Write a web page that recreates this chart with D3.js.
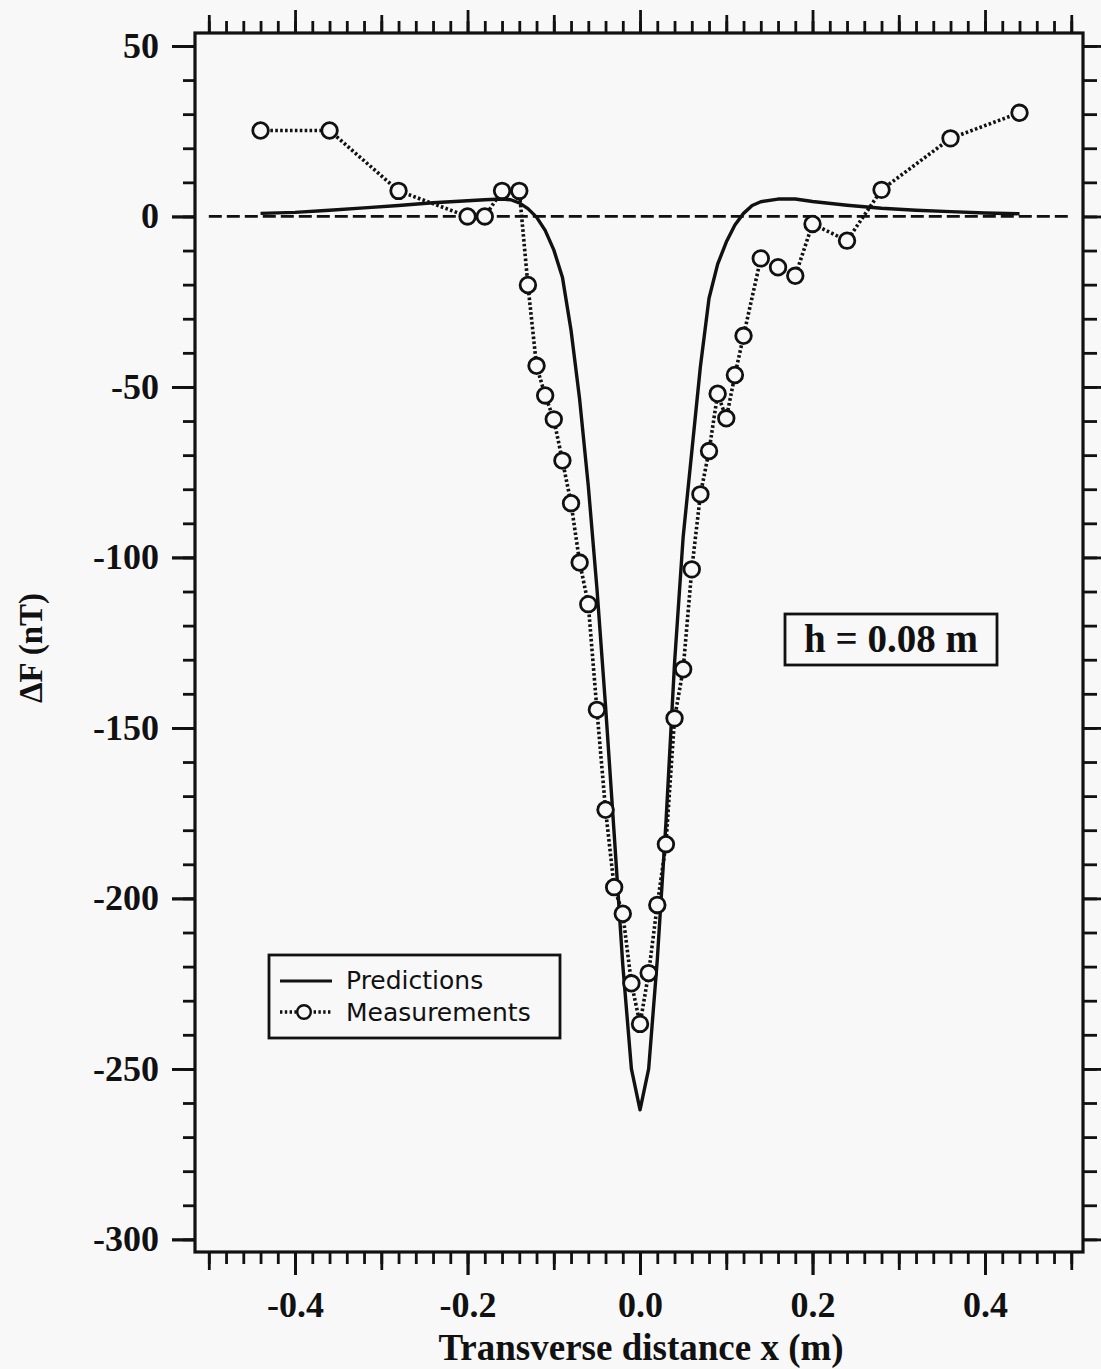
<!DOCTYPE html>
<html>
<head>
<meta charset="utf-8">
<script src="https://cdn.jsdelivr.net/npm/d3@7"></script>
<style>
  html, body { margin: 0; padding: 0; background: #f8f8f8; }
  svg { display: block; }
  .tick-label { font-family: "Liberation Serif", "Times New Roman", serif; font-weight: bold; font-size: 36px; fill: #111; }
  .legend-text { font-family: "DejaVu Sans", sans-serif; font-size: 25px; fill: #111; }
</style>
</head>
<body>
<svg id="chart" width="1101" height="1369"></svg>
<script>
// measurements (dotted line with open circles)
const measX = [-0.44, -0.36, -0.28, -0.20, -0.18, -0.16, -0.14, -0.13, -0.12, -0.11,
    -0.10, -0.09, -0.08, -0.07, -0.06, -0.05, -0.04, -0.03, -0.02, -0.01,
    0.00, 0.01, 0.02, 0.03, 0.04, 0.05, 0.06, 0.07, 0.08, 0.09,
    0.10, 0.11, 0.12, 0.14, 0.16, 0.18, 0.20, 0.24, 0.28, 0.36, 0.44]
const measY = [25.2, 25.2, 7.5, 0, 0, 7.5, 7.5, -20.1, -43.8, -52.5,
    -59.5, -71.6, -84.1, -101.5, -113.7, -144.7, -174, -196.7, -204.5, -224.9,
    -236.8, -221.9, -201.9, -184.1, -147.2, -132.8, -103.5, -81.5, -68.8, -52,
    -59.2, -46.5, -35, -12.3, -14.9, -17.4, -2.2, -7.1, 7.8, 22.9, 30.4]

// predictions (solid line)
const predX = [-0.44, -0.40, -0.36, -0.32, -0.28, -0.24, -0.20, -0.18, -0.16, -0.15,
    -0.14, -0.13, -0.12, -0.11, -0.10, -0.09, -0.08, -0.07, -0.06, -0.05,
    -0.04, -0.03, -0.02, -0.01, 0.00, 0.01, 0.02, 0.03, 0.04, 0.05,
    0.06, 0.07, 0.08, 0.09, 0.10, 0.11, 0.12, 0.13, 0.14, 0.16,
    0.18, 0.20, 0.24, 0.28, 0.32, 0.36, 0.40, 0.44]
const predY = [0.9, 1.2, 1.8, 2.5, 3.2, 4.0, 4.6, 4.9, 5.1, 4.9,
    4.0, 2.3, -0.2, -4.1, -9.8, -17.8, -33.4, -53.7, -79, -109,
    -143.5, -181, -219.5, -250, -262, -250, -218, -178, -131, -94,
    -69, -44, -24, -14, -7.5, -2.5, 0.9, 3.2, 4.3, 5.1,
    5.1, 4.4, 3.3, 2.4, 1.8, 1.4, 1.0, 0.8]

const zeroLineX = [-0.5, 0.5]

const xMajorTicks = [-0.4, -0.2, 0.0, 0.2, 0.4]
const yMajorTicks = [50, 0, -50, -100, -150, -200, -250, -300]

const legendLabels = ['Predictions', 'Measurements']
const annotation = 'h = 0.08 m'
const xTitle = 'Transverse distance x (m)'
const yTitle = '\u0394F (nT)'

const svg = d3.select('#chart')
const frame = { left: 195, top: 33, right: 1083, bottom: 1252 }

const x = d3.scaleLinear().domain([-0.516, 0.5136]).range([frame.left, frame.right])
const y = d3.scaleLinear().domain([-303.7, 53.8]).range([frame.bottom, frame.top])

const xMinor = d3.range(-50, 51, 2).map(v => v / 100)
const xMid = d3.range(-5, 6, 2).map(v => v / 10)
const yMinor = d3.range(-300, 51, 10)

function styleAxis(g, width) {
    g.select('.domain').remove()
    g.selectAll('.tick line').attr('stroke', '#111').attr('stroke-width', width)
}

// x ticks, bottom and top, three lengths
;[[xMinor, 12], [xMid, 18], [xMajorTicks, 23]].forEach(([vals, len]) => {
    svg.append('g')
        .attr('transform', `translate(0,${frame.bottom})`)
        .call(d3.axisBottom(x).tickValues(vals).tickSize(len).tickFormat(''))
        .call(g => styleAxis(g, 2.8))
    svg.append('g')
        .attr('transform', `translate(0,${frame.top})`)
        .call(d3.axisTop(x).tickValues(vals).tickSize(len).tickFormat(''))
        .call(g => styleAxis(g, 2.8))
})

// x labels
svg.append('g')
    .attr('transform', `translate(0,${frame.bottom})`)
    .call(d3.axisBottom(x).tickValues(xMajorTicks).tickSize(23).tickPadding(16)
        .tickFormat(d => d.toFixed(1)))
    .call(g => styleAxis(g, 2.8))
    .call(g => g.selectAll('text').attr('class', 'tick-label').attr('fill', null))

// y ticks left and right
;[[yMinor, 12, 14], [yMajorTicks, 23, 20]].forEach(([vals, lenL, lenR]) => {
    svg.append('g')
        .attr('transform', `translate(${frame.left},0)`)
        .call(d3.axisLeft(y).tickValues(vals).tickSize(lenL).tickFormat(''))
        .call(g => styleAxis(g, 2.8))
    svg.append('g')
        .attr('transform', `translate(${frame.right},0)`)
        .call(d3.axisRight(y).tickValues(vals).tickSize(lenR).tickFormat(''))
        .call(g => styleAxis(g, 2.8))
})

svg.append('g')
    .attr('transform', `translate(${frame.left},0)`)
    .call(d3.axisLeft(y).tickValues(yMajorTicks).tickSize(23).tickPadding(13)
        .tickFormat(d => String(d)))
    .call(g => styleAxis(g, 2.8))
    .call(g => g.selectAll('text').attr('class', 'tick-label').attr('fill', null))

// frame
svg.append('rect')
    .attr('x', frame.left).attr('y', frame.top)
    .attr('width', frame.right - frame.left).attr('height', frame.bottom - frame.top)
    .attr('fill', 'none').attr('stroke', '#111').attr('stroke-width', 3.2)

// zero dashed line
svg.append('line')
    .attr('x1', x(zeroLineX[0])).attr('x2', x(zeroLineX[1]))
    .attr('y1', y(0)).attr('y2', y(0))
    .attr('stroke', '#111').attr('stroke-width', 2.8)
    .attr('stroke-dasharray', '13,5')

const line = d3.line().x(d => x(d[0])).y(d => y(d[1]))

// predictions
svg.append('path')
    .datum(d3.zip(predX, predY))
    .attr('d', line)
    .attr('fill', 'none').attr('stroke', '#111').attr('stroke-width', 3.4)
    .attr('stroke-linejoin', 'round')

// measurements
const meas = d3.zip(measX, measY)
svg.append('path')
    .datum(meas)
    .attr('d', line)
    .attr('fill', 'none').attr('stroke', '#111').attr('stroke-width', 3.6)
    .attr('stroke-dasharray', '2.6,2.3')

svg.append('g')
    .selectAll('circle')
    .data(meas)
    .join('circle')
    .attr('cx', d => x(d[0])).attr('cy', d => y(d[1]))
    .attr('r', 7.8)
    .attr('fill', '#f8f8f8').attr('stroke', '#111').attr('stroke-width', 2.8)

// legend
const lg = svg.append('g')
lg.append('rect')
    .attr('x', 269).attr('y', 955).attr('width', 291).attr('height', 83)
    .attr('fill', '#f8f8f8').attr('stroke', '#111').attr('stroke-width', 2.8)
lg.append('line')
    .attr('x1', 280).attr('x2', 332).attr('y1', 981).attr('y2', 981)
    .attr('stroke', '#111').attr('stroke-width', 3)
lg.append('line')
    .attr('x1', 280).attr('x2', 332).attr('y1', 1012).attr('y2', 1012)
    .attr('stroke', '#111').attr('stroke-width', 3.4).attr('stroke-dasharray', '2.4,2.4')
lg.append('circle')
    .attr('cx', 304).attr('cy', 1012).attr('r', 6.8)
    .attr('fill', '#f8f8f8').attr('stroke', '#111').attr('stroke-width', 2.4)
lg.selectAll('text')
    .data(legendLabels)
    .join('text')
    .attr('class', 'legend-text')
    .attr('x', 346)
    .attr('y', (d, i) => 989 + i * 32)
    .text(d => d)

// annotation box
svg.append('rect')
    .attr('x', 785).attr('y', 614).attr('width', 212).attr('height', 51)
    .attr('fill', '#f8f8f8').attr('stroke', '#111').attr('stroke-width', 2.8)
svg.append('text')
    .attr('class', 'tick-label')
    .attr('x', 891).attr('y', 652)
    .attr('text-anchor', 'middle')
    .style('font-size', '39px')
    .text(annotation)

// axis titles
svg.append('text')
    .attr('class', 'tick-label')
    .attr('x', 641).attr('y', 1360)
    .attr('text-anchor', 'middle')
    .style('font-size', '37px')
    .text(xTitle)

svg.append('text')
    .attr('class', 'tick-label')
    .attr('transform', 'translate(42,648) rotate(-90)')
    .attr('text-anchor', 'middle')
    .style('font-size', '33px')
    .text(yTitle)
</script>
</body>
</html>
